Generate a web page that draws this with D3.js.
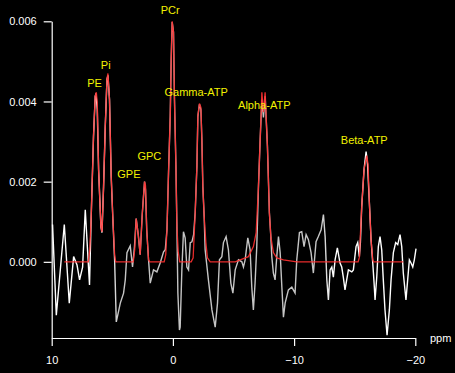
<!DOCTYPE html>
<html>
<head>
<meta charset="utf-8">
<script src="https://cdn.jsdelivr.net/npm/d3@7"></script>
<style>
  html, body { margin: 0; padding: 0; background: #000; }
  svg { display: block; }
  text { font-family: "Liberation Sans", Arial, sans-serif; }
</style>
</head>
<body>
<div id="chart"></div>
<script>
// measured spectrum (ppm, signal)
var specPpm = [9.93, 9.62, 8.96, 8.55, 8.19, 7.91, 7.70, 7.45, 7.23, 6.88,
  6.74, 6.55, 6.41, 6.35, 6.24, 6.13, 5.94, 5.85, 5.72, 5.58,
  5.44, 5.36, 5.23, 5.09, 4.95, 4.81, 4.67, 4.34, 4.07, 3.93,
  3.79, 3.52, 3.33, 3.17, 3.03, 2.86, 2.70, 2.53, 2.34, 2.26,
  2.16, 2.01, 1.87, 1.60, 1.32, 1.05, 0.77, 0.63, 0.49, 0.36,
  0.22, 0.14, 0.06, -0.05, -0.13, -0.25, -0.33, -0.41, -0.54, -0.60,
  -0.74, -0.87, -1.01, -1.15, -1.29, -1.43, -1.57, -1.71, -1.84, -1.98,
  -2.06, -2.19, -2.31, -2.39, -2.47, -2.58, -2.66, -2.93, -3.22, -3.49,
  -3.68, -3.84, -4.04, -4.17, -4.39, -4.58, -4.78, -4.95, -5.14, -5.41,
  -5.69, -5.82, -5.96, -6.18, -6.37, -6.51, -6.64, -6.78, -6.92, -7.06,
  -7.20, -7.34, -7.47, -7.61, -7.80, -7.96, -8.08, -8.16, -8.29, -8.43,
  -8.57, -8.71, -8.85, -8.99, -9.12, -9.26, -9.53, -9.81, -10.08, -10.22,
  -10.44, -10.63, -10.82, -10.99, -11.18, -11.40, -11.59, -11.81, -12.00, -12.23,
  -12.42, -12.56, -12.70, -12.83, -12.97, -13.11, -13.24, -13.38, -13.57, -13.79,
  -13.93, -14.06, -14.20, -14.34, -14.48, -14.76, -14.89, -15.11, -15.25, -15.38,
  -15.47, -15.58, -15.77, -15.94, -16.06, -16.21, -16.35, -16.49, -16.60, -16.68,
  -16.82, -16.95, -17.09, -17.23, -17.36, -17.50, -17.67, -17.86, -18.00, -18.19,
  -18.38, -18.55, -18.74, -18.88, -19.01, -19.23, -19.37, -19.51, -19.65, -19.79,
  -19.92, -20.06];
var specVal = [0.00093, -0.00133, 0.00093, -0.00103, 0.00013, -0.00008, -0.00045, -0.00013, 0.0013, -0.00058,
  0.00113, 0.00313, 0.00413, 0.0042, 0.0038, 0.0023, 0.00088, 0.00073, 0.00188, 0.00338,
  0.00455, 0.00465, 0.00405, 0.00213, 0.00105, 0.00005, -0.0015, -0.00103, -0.00078, -0.00045,
  0.00023, 0.0004, -0.00013, 0.00038, 0.00108, 0.00068, 0.00018, 0.00118, 0.002, 0.0018,
  0.0008, 0.00005, -0.00053, -0.0002, -0.00025, -0.00003, 0.00025, 0.0003, 0.0008, 0.00223,
  0.00363, 0.00505, 0.00598, 0.00573, 0.00405, 0.00238, 0.00088, -0.00078, -0.0017, -0.00163,
  -0.0002, 0.00075, 0.0006, -0.00013, -0.0002, 0.00048, 0.0005, 0.00068, 0.00123, 0.00238,
  0.00363, 0.00393, 0.0038, 0.00305, 0.00188, 0.00113, 0.0003, -0.00045, -0.0012, -0.00163,
  -0.00103, 0.00005, 0.00013, 0.00048, 0.00063, 0.0003, -0.00053, -0.00078, -0.0002, 0.00005,
  0, -0.00013, 0.00005, 0.0006, 0.0003, -0.00063, -0.0012, -0.00053, 0.00038, 0.00188,
  0.00305, 0.00405, 0.0036, 0.00413, 0.00288, 0.00123, 0.00063, 0.00013, -0.00028, -0.00045,
  0.00013, 0.00063, 0.00023, -0.00063, -0.00138, -0.00103, -0.0007, -0.00063, -0.00078, 0.00005,
  0.00073, 0.00075, 0.00038, 0.00068, 0.00055, 0.00023, -0.00028, 0.0005, 0.00063, 0.0008,
  0.00118, 0.00063, -0.00045, -0.00095, -0.0002, -0.00013, -0.00038, 0.00005, 0.00035, -0.00003,
  -0.00013, -0.00038, -0.0007, -0.00045, -0.0002, -0.00025, -0.0002, 0.00038, 0.00048, 0.00013,
  0.00048, 0.00138, 0.0023, 0.00275, 0.00243, 0.00148, 0.00055, -0.00003, -0.00053, -0.00095,
  -0.00038, 0.00038, 0.00063, 0.0003, -0.00045, -0.0012, -0.00183, -0.0012, -0.00045, 0.00023,
  0.00048, 0.00043, 0.00068, 0.00038, -0.00028, -0.00095, -0.00045, 0.00005, -0.00003, -0.00013,
  0.00005, 0.00033];

// fitted curve
var fitPpm = [8.96, 6.98, 6.86, 6.74, 6.55, 6.41, 6.32, 6.24, 6.13, 5.94,
  5.85, 5.72, 5.58, 5.44, 5.36, 5.23, 5.09, 4.95, 4.81, 4.72,
  3.27, 3.15, 3.03, 2.86, 2.70, 2.53, 2.34, 2.26, 2.16, 2.01,
  1.91, 0.72, 0.59, 0.49, 0.36, 0.22, 0.14, 0.06, -0.05, -0.13,
  -0.25, -0.33, -0.44, -0.56, -1.51, -1.67, -1.84, -1.98, -2.06, -2.19,
  -2.31, -2.39, -2.47, -2.58, -2.72, -2.85, -3.08, -5.14, -5.55, -6.23,
  -6.64, -6.87, -7.06, -7.20, -7.34, -7.47, -7.61, -7.80, -7.96, -8.08,
  -8.29, -8.57, -9.12, -10.22, -15.28, -15.40, -15.44, -15.58, -15.77, -15.99,
  -16.10, -16.21, -16.35, -16.49, -16.55, -19.01];
var fitVal = [0, 0, 0.0003, 0.00113, 0.00313, 0.00413, 0.00423, 0.00398, 0.0023, 0.00088,
  0.00075, 0.00188, 0.00338, 0.00455, 0.0047, 0.00405, 0.00213, 0.00105, 0.00018, 0,
  0, 0.0003, 0.00108, 0.00068, 0.00018, 0.00118, 0.002, 0.0019, 0.0008, 0.00005,
  0, 0, 0.00018, 0.0008, 0.00223, 0.00363, 0.00505, 0.006, 0.00573, 0.00405,
  0.00238, 0.00088, 0.00025, 0, 0, 0.0001, 0.00123, 0.00238, 0.00363, 0.00395,
  0.00385, 0.00305, 0.00188, 0.00113, 0.00048, 0.0001, 0, 0, 0.00005, 0.00013,
  0.00038, 0.00073, 0.00188, 0.00305, 0.00423, 0.00373, 0.00423, 0.00288, 0.00123, 0.00063,
  0.00023, 0.0001, 0.00005, 0, 0, 0.00013, 0.00048, 0.00138, 0.0023, 0.00265,
  0.00243, 0.00148, 0.00055, 0.00005, 0, 0];

// peak names and where they sit (ppm, signal)
var peakNames = ["PE", "Pi", "GPE", "GPC", "PCr", "Gamma-ATP", "Alpha-ATP", "Beta-ATP"];
var peakPpm = [6.47, 5.54, 3.63, 1.94, 0.22, -1.92, -7.54, -15.79];
var peakVal = [0.00435, 0.0048, 0.0021, 0.00253, 0.00618, 0.00413, 0.0038, 0.00295];

var xTicks = [10, 0, -10, -20];
var yTicks = [0, 0.002, 0.004, 0.006];

var W = 455, H = 373;
var svg = d3.select("#chart").append("svg")
  .attr("width", W)
  .attr("height", H)
  .style("background", "#000");

var x = d3.scaleLinear().domain([10, -20]).range([51.7, 415.3]);
var y = d3.scaleLinear().domain([-0.0019, 0.006]).range([338, 21.3]);

// stroke colour of the spectrum: grey in the middle part
var grad = svg.append("defs").append("linearGradient")
  .attr("id", "specGrad")
  .attr("gradientUnits", "userSpaceOnUse")
  .attr("x1", 0).attr("x2", W).attr("y1", 0).attr("y2", 0);
grad.append("stop").attr("offset", 110 / W).attr("stop-color", "#ffffff");
grad.append("stop").attr("offset", 118 / W).attr("stop-color", "#c4c4c4");
grad.append("stop").attr("offset", 322 / W).attr("stop-color", "#c4c4c4");
grad.append("stop").attr("offset", 332 / W).attr("stop-color", "#ffffff");

var line = d3.line()
  .x(function(d) { return x(d[0]); })
  .y(function(d) { return y(d[1]); });

var spec = specPpm.map(function(p, i) { return [p, specVal[i]]; });
var fit = fitPpm.map(function(p, i) { return [p, fitVal[i]]; });

svg.append("path")
  .datum(spec)
  .attr("d", line)
  .attr("fill", "none")
  .attr("stroke", "url(#specGrad)")
  .attr("stroke-width", 1.4);

svg.append("path")
  .datum(fit)
  .attr("d", line)
  .attr("fill", "none")
  .attr("stroke", "#ff3030")
  .attr("stroke-width", 1.3)
  .attr("opacity", 0.9);

// axes
var xAxis = svg.append("g")
  .attr("transform", "translate(0,338)")
  .call(d3.axisBottom(x).tickValues(xTicks).tickSize(8).tickSizeOuter(0).tickPadding(10)
    .tickFormat(d3.format("d")));
var yAxis = svg.append("g")
  .attr("transform", "translate(51.7,0)")
  .call(d3.axisLeft(y).tickValues(yTicks).tickSize(8).tickSizeOuter(0).tickPadding(7)
    .tickFormat(d3.format(".3f")));

[xAxis, yAxis].forEach(function(g) {
  g.select(".domain").attr("stroke", "#fff").attr("stroke-width", 1.2);
  g.selectAll(".tick line").attr("stroke", "#fff").attr("stroke-width", 1.2);
  g.selectAll(".tick text")
    .attr("fill", "#fff")
    .style("font-size", "11px")
    .style("font-family", "'Liberation Sans', Arial, sans-serif");
});

svg.append("text")
  .attr("x", 430)
  .attr("y", 342)
  .attr("fill", "#fff")
  .style("font-size", "11px")
  .text("ppm");

// peak labels
svg.selectAll(".peak")
  .data(peakNames)
  .enter()
  .append("text")
  .attr("class", "peak")
  .attr("x", function(d, i) { return x(peakPpm[i]); })
  .attr("y", function(d, i) { return y(peakVal[i]); })
  .attr("text-anchor", "middle")
  .attr("fill", "#f2f200")
  .style("font-size", "11px")
  .text(function(d) { return d; });
</script>
</body>
</html>
